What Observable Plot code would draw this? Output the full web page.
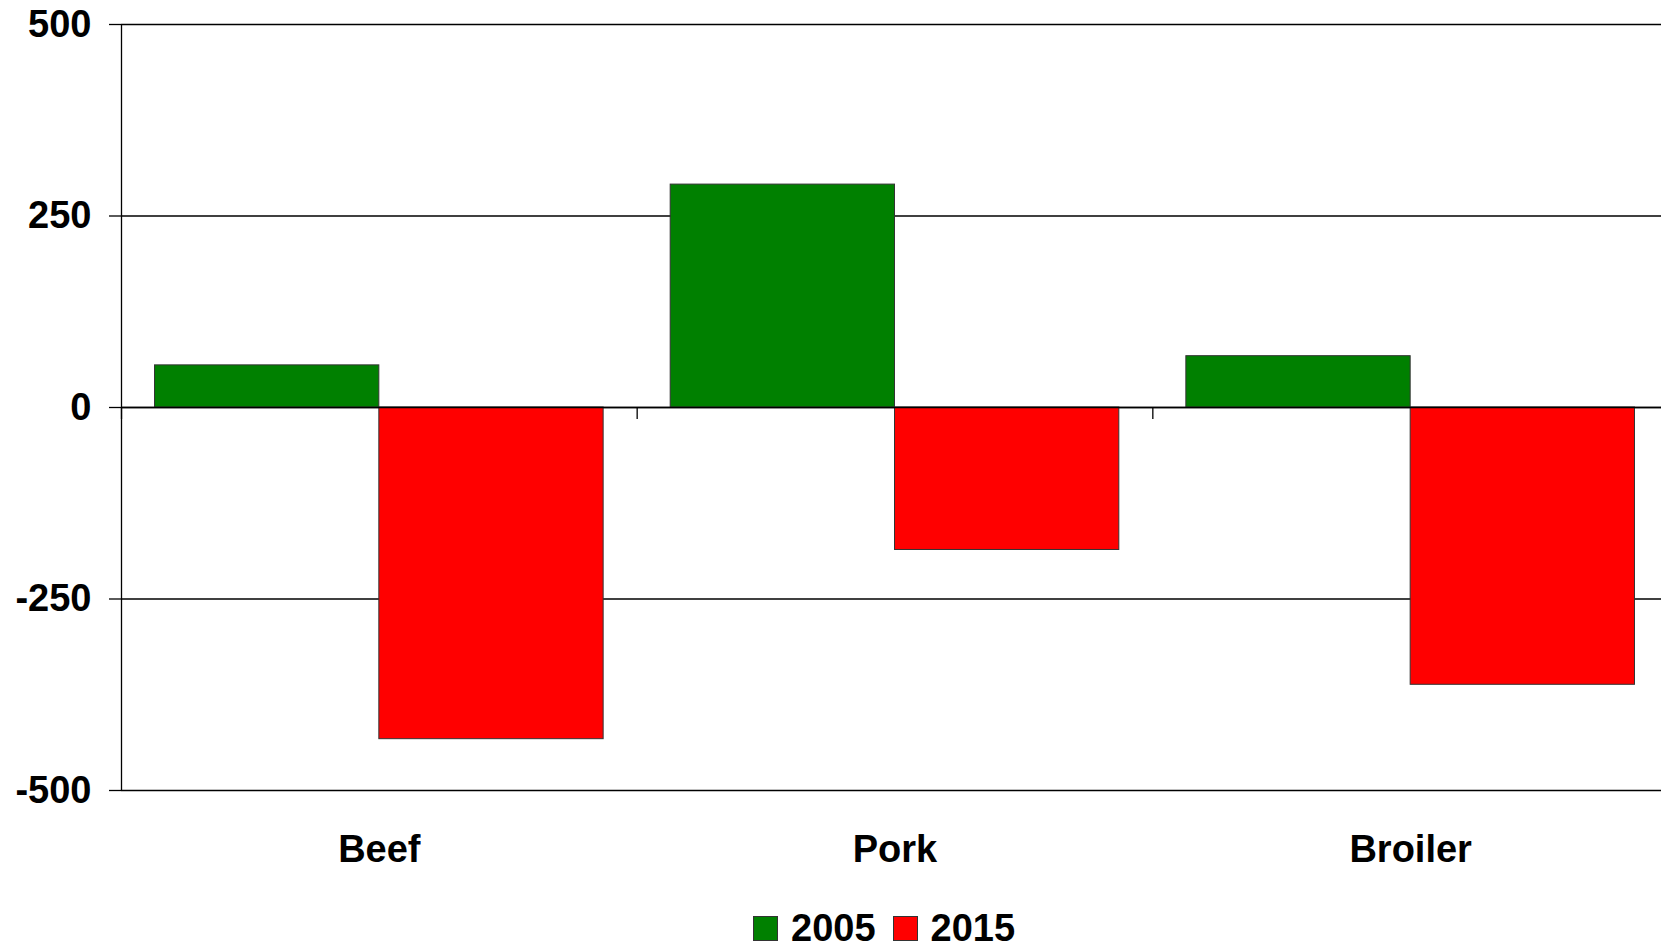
<!DOCTYPE html>
<html>
<head>
<meta charset="utf-8">
<script src="https://cdn.jsdelivr.net/npm/d3@7"></script>
<script src="https://cdn.jsdelivr.net/npm/@observablehq/plot@0.6"></script>
<style>
  html, body { margin: 0; padding: 0; background: #fff; overflow: hidden; width: 1661px; height: 947px; }
  #chart { position: absolute; left: 0; top: 0; width: 1668px; }
  #chart svg { max-width: none !important; }
  #legend { position: absolute; left: 753px; top: 909px; display: flex; align-items: center;
            font-family: "Liberation Sans", Arial, sans-serif; font-weight: bold; font-size: 38px; line-height: 38px; color: #000; }
  .sw { width: 23px; height: 23px; border: 1px solid #333; margin-right: 13px; }
  .item { display: flex; align-items: center; margin-right: 17px; }
</style>
</head>
<body>
<div id="chart"></div>
<div id="legend"></div>
<script>
const categories = ["Beef", "Pork", "Broiler"];
const series = ["2005", "2015"];
const values2005 = [55, 291, 67];
const values2015 = [-433, -186, -362];
const colors = ["#008000", "#FF0000"];
const yTicks = [-500, -250, 0, 250, 500];

// layout constants (fraction of a category slot)
const gap = 0.065, half = 0.5;

const data = [];
categories.forEach((c, i) => {
  data.push({cat: c, idx: i, year: series[0], value: values2005[i]});
  data.push({cat: c, idx: i, year: series[1], value: values2015[i]});
});

const font = "'Liberation Sans', Arial, sans-serif";

const plot = Plot.plot({
  width: 1668,
  height: 900,
  marginLeft: 121,
  marginRight: 0,
  marginTop: 24,
  marginBottom: 110,
  style: {fontFamily: font, fontWeight: "bold", fontSize: "38px", color: "#000", background: "#fff", maxWidth: "none"},
  x: {domain: [0, categories.length], axis: null},
  y: {domain: [-500, 500], axis: null},
  color: {domain: series, range: colors},
  marks: [
    Plot.gridY(yTicks, {stroke: "#000", strokeOpacity: 1, strokeWidth: 1.3}),
    Plot.axisY(yTicks, {tickSize: 12, tickPadding: 18, stroke: "#000", strokeWidth: 1.3,
      tickFormat: v => String(v), fontSize: 38, fontWeight: "bold", label: null}),
    Plot.rectY(data, {
      x1: d => d.idx + (d.year === series[0] ? gap : half),
      x2: d => d.idx + (d.year === series[0] ? half : 1 - gap),
      y1: 0,
      y2: "value",
      fill: "year",
      stroke: "#333",
      strokeWidth: 1
    }),
    Plot.ruleY([0], {stroke: "#000", strokeWidth: 1.3}),
    Plot.ruleX([0], {y1: -500, y2: 500, stroke: "#000", strokeWidth: 1.3}),
    Plot.ruleX(d3.range(categories.length + 1), {y1: 0, y2: 0, insetBottom: -12, stroke: "#000", strokeWidth: 1.3}),
    Plot.axisX(categories.map((c, i) => i + 0.5), {
      tickSize: 0, tickPadding: 45, tickFormat: v => categories[Math.floor(v)],
      fontSize: 38, fontWeight: "bold", label: null
    })
  ]
});
document.getElementById("chart").appendChild(plot);

const legend = document.getElementById("legend");
series.forEach((s, i) => {
  const item = document.createElement("div");
  item.className = "item";
  const sw = document.createElement("div");
  sw.className = "sw";
  sw.style.background = colors[i];
  const t = document.createElement("span");
  t.textContent = s;
  item.appendChild(sw);
  item.appendChild(t);
  legend.appendChild(item);
});
</script>
</body>
</html>
